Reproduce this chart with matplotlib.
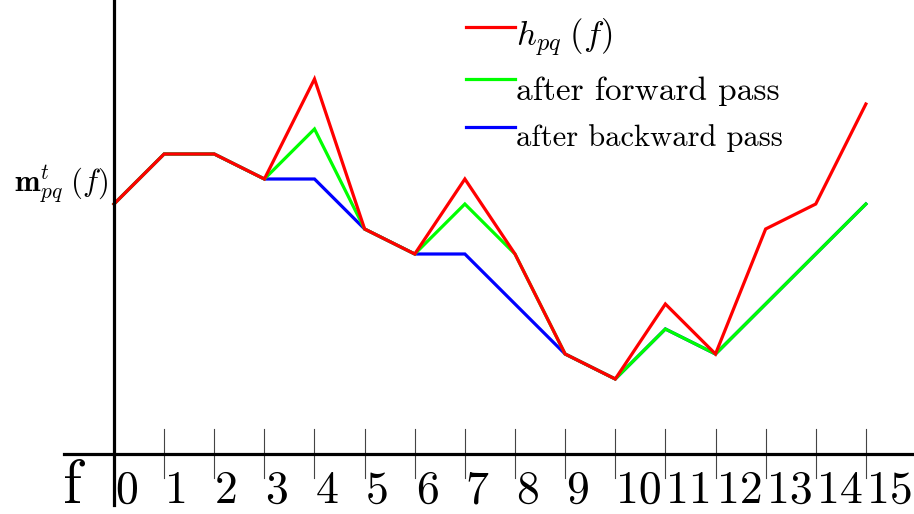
import numpy as np
import matplotlib
matplotlib.use("Agg")
import matplotlib.pyplot as plt

plt.rcParams['mathtext.fontset'] = 'cm'
plt.rcParams['font.family'] = ['cmr10', 'DejaVu Sans']
plt.rcParams['axes.unicode_minus'] = False

# frequency bins and the three curves
freqs = np.arange(16)
h_pq = [5.0, 6.0, 6.0, 5.5, 7.5, 4.5, 4.0, 5.5, 4.0, 2.0, 1.5, 3.0, 2.0, 4.5, 5.0, 7.0]
forward = [5.0, 6.0, 6.0, 5.5, 6.5, 4.5, 4.0, 5.0, 4.0, 2.0, 1.5, 2.5, 2.0, 3.0, 4.0, 5.0]
backward = [5.0, 6.0, 6.0, 5.5, 5.5, 4.5, 4.0, 4.0, 3.0, 2.0, 1.5, 2.5, 2.0, 3.0, 4.0, 5.0]
tick_labels = [str(i) for i in freqs]

legend_names = [r'$h_{pq}\;(f)$', 'after forward pass', 'after backward pass']
legend_colors = ['#ff0000', '#00ff00', '#0000ff']

fig = plt.figure(figsize=(9.14, 5.14), dpi=100)
ax = fig.add_axes([0, 0, 1, 1])
ax.set_xlim(-2.274, 15.96)
ax.set_ylim(-1.2, 9.08)
ax.axis('off')

# curves: blue under green under red
ax.plot(freqs, backward, color='#0000ff', lw=2.3, zorder=3, solid_joinstyle='miter')
ax.plot(freqs, forward, color='#00ff00', lw=2.3, zorder=4, solid_joinstyle='miter')
ax.plot(freqs, h_pq, color='#ff0000', lw=2.3, zorder=5, solid_joinstyle='miter')

# axes
ax.plot([-1.0, 16.2], [0, 0], color='black', lw=2.3, zorder=6)
ax.plot([0, 0], [-1.02, 9.2], color='black', lw=2.3, zorder=6)

# ticks and labels
for f, lab in zip(freqs, tick_labels):
    if f > 0:
        ax.plot([f, f], [-0.48, 0.5], color='#444444', lw=0.8, zorder=2)
    ax.text(f + 0.02, -0.98, lab, fontsize=33, ha='left', va='baseline',
            family='cmr10')
ax.text(-1.02, -0.98, 'f', fontsize=44, ha='left', va='baseline', family='cmr10')

# y label
ax.text(-0.12, 5.38, r'$\mathbf{m}_{pq}^{t}\;(f)$', fontsize=22,
        ha='right', va='center')

# legend
leg_y = [8.54, 7.5, 6.54]
leg_size = [25, 24, 22]
leg_dy = [0.2, 0.06, 0.06]
for name, col, y, fs, dy in zip(legend_names, legend_colors, leg_y, leg_size, leg_dy):
    ax.plot([7.02, 8.0], [y, y], color=col, lw=2.3)
    ax.text(8.03, y + dy, name, fontsize=fs, ha='left', va='top',
            family='cmr10')

fig.savefig('out.png', dpi=100)
